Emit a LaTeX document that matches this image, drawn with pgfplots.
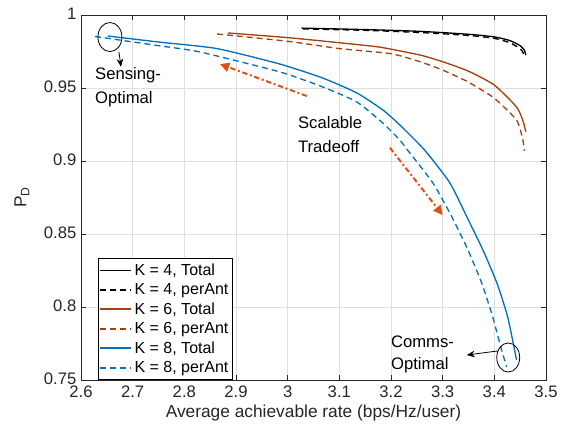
\documentclass[border=0pt]{standalone}
\usepackage{fontspec}
\setmainfont{Liberation Sans}
\usepackage{pgfplots}
\pgfplotsset{compat=1.18}
\usetikzlibrary{arrows.meta}
\definecolor{mblue}{RGB}{0,114,189}
\definecolor{mbrown}{RGB}{166,64,16}
\definecolor{morange}{RGB}{217,83,25}
\definecolor{mgrid}{RGB}{223,223,223}
\definecolor{maxis}{RGB}{38,38,38}

\begin{document}
\begin{tikzpicture}
\useasboundingbox (-60.75pt,-40.5pt) rectangle (360pt,285pt);
\begin{axis}[
    scale only axis,
    width=348.75pt, height=273.75pt,
    at={(0,0)}, anchor=south west,
    xmin=2.6, xmax=3.5, ymin=0.75, ymax=1,
    xtick={2.6,2.7,...,3.5},
    ytick={0.75,0.8,...,1},
    xticklabels={2.6,2.7,2.8,2.9,3,3.1,3.2,3.3,3.4,3.5},
    yticklabels={0.75,0.8,0.85,0.9,0.95,1},
    grid=major,
    major grid style={mgrid, line width=0.5pt},
    axis line style={maxis, line width=0.6pt},
    tick style={maxis, line width=0.6pt},
    tick align=inside,
    major tick length=4pt,
    /pgf/number format/assume math mode=true,
    ticklabel style={font=\fontsize{12.5}{15}\selectfont, text=maxis},
    yticklabel style={yshift=1pt},
    xticklabel style={yshift=-0.5pt},
    label style={font=\fontsize{13}{15}\selectfont, text=maxis},
    xlabel={Average achievable rate (bps/Hz/user)},
    ylabel={P\textsubscript{D}},
    xlabel style={at={(axis description cs:0.5,-0.09)}, anchor=center},
    ylabel style={at={(axis description cs:-0.127,0.5)}, anchor=center},
    legend style={at={(axis description cs:0.0366,0)}, anchor=south west,
        draw=black, fill=white, font=\fontsize{12}{14}\selectfont,
        inner xsep=1pt, inner ysep=2pt, row sep=0.6pt, legend cell align=left},
    legend image code/.code={\draw[#1, line width=1.2pt] (0pt,0pt) -- (23pt,0pt);},
    every axis plot/.append style={line width=1pt, smooth, tension=0.35},
]
% K = 4
\addplot[black] coordinates {(3.027,0.991) (3.15,0.990) (3.256,0.9888) (3.35,0.9868) (3.40,0.985) (3.43,0.9825) (3.45,0.979) (3.458,0.976) (3.461,0.9725)};
\addlegendentry{K = 4, Total}
\addplot[black, dash pattern=on 4.5pt off 3pt] coordinates {(3.03,0.9905) (3.15,0.9895) (3.256,0.988) (3.35,0.986) (3.40,0.984) (3.43,0.981) (3.45,0.977) (3.456,0.974) (3.458,0.971)};
\addlegendentry{K = 4, perAnt}
% K = 6
\addplot[mbrown] coordinates {(2.884,0.9877) (3.0,0.9845) (3.1,0.981) (3.178,0.978) (3.256,0.9726) (3.30,0.968) (3.35,0.9615) (3.40,0.952) (3.443,0.937) (3.455,0.928) (3.461,0.92)};
\addlegendentry{K = 6, Total}
\addplot[mbrown, dash pattern=on 4.5pt off 3pt] coordinates {(2.863,0.987) (3.0,0.982) (3.1,0.977) (3.2,0.9735) (3.256,0.968) (3.30,0.9623) (3.35,0.954) (3.40,0.943) (3.443,0.928) (3.455,0.915) (3.458,0.907)};
\addlegendentry{K = 6, perAnt}
% K = 8
\addplot[mblue] coordinates {(2.652,0.9856) (2.75,0.9815) (2.863,0.977) (2.985,0.9664) (3.068,0.9568) (3.134,0.9466) (3.184,0.935) (3.217,0.9247) (3.265,0.9075) (3.314,0.885) (3.347,0.8616) (3.378,0.839) (3.405,0.8164) (3.426,0.793) (3.443,0.7637)};
\addlegendentry{K = 8, Total}
\addplot[mblue, dash pattern=on 4.5pt off 3pt] coordinates {(2.627,0.9853) (2.75,0.979) (2.83,0.9747) (2.985,0.961) (3.068,0.9507) (3.134,0.9404) (3.184,0.926) (3.217,0.9144) (3.232,0.9075) (3.281,0.885) (3.318,0.8616) (3.349,0.839) (3.376,0.816) (3.397,0.793) (3.414,0.7705) (3.424,0.759)};
\addlegendentry{K = 8, perAnt}

% annotations
\draw[black, line width=0.6pt] (axis cs:2.656,0.9849) ellipse [x radius=9pt, y radius=10.9pt];
\draw[black, line width=0.6pt, -{Stealth[length=6pt,width=5pt]}] (axis cs:2.6735,0.9747) -- (axis cs:2.6774,0.9645);
\node[anchor=west, align=left, font=\fontsize{12.5}{18}\selectfont, inner sep=0pt] at (axis cs:2.627,0.9507) {Sensing-\\Optimal};

\draw[black, line width=0.6pt] (axis cs:3.4269,0.7654) ellipse [x radius=8.6pt, y radius=10.9pt];
\draw[black, line width=0.6pt, -{Stealth[length=6pt,width=5pt]}] (axis cs:3.4066,0.7699) -- (axis cs:3.3466,0.7671);
\node[anchor=west, align=left, font=\fontsize{12.5}{16.5}\selectfont, inner sep=0pt] at (axis cs:3.1996,0.7678) {Comms-\\Optimal};

\node[anchor=west, align=left, font=\fontsize{12.5}{18}\selectfont, inner sep=0pt] at (axis cs:3.0197,0.9178) {Scalable\\Tradeoff};
\draw[morange, line width=1.5pt, dash pattern=on 4pt off 2pt on 1.5pt off 2pt, -{Triangle[length=7pt,width=7pt]}] (axis cs:3.037,0.9445) -- (axis cs:2.869,0.9664);
\draw[morange, line width=1.5pt, dash pattern=on 4pt off 2pt on 1.5pt off 2pt, -{Triangle[length=7pt,width=7pt]}] (axis cs:3.198,0.909) -- (axis cs:3.300,0.863);
\end{axis}
\end{tikzpicture}
\end{document}
